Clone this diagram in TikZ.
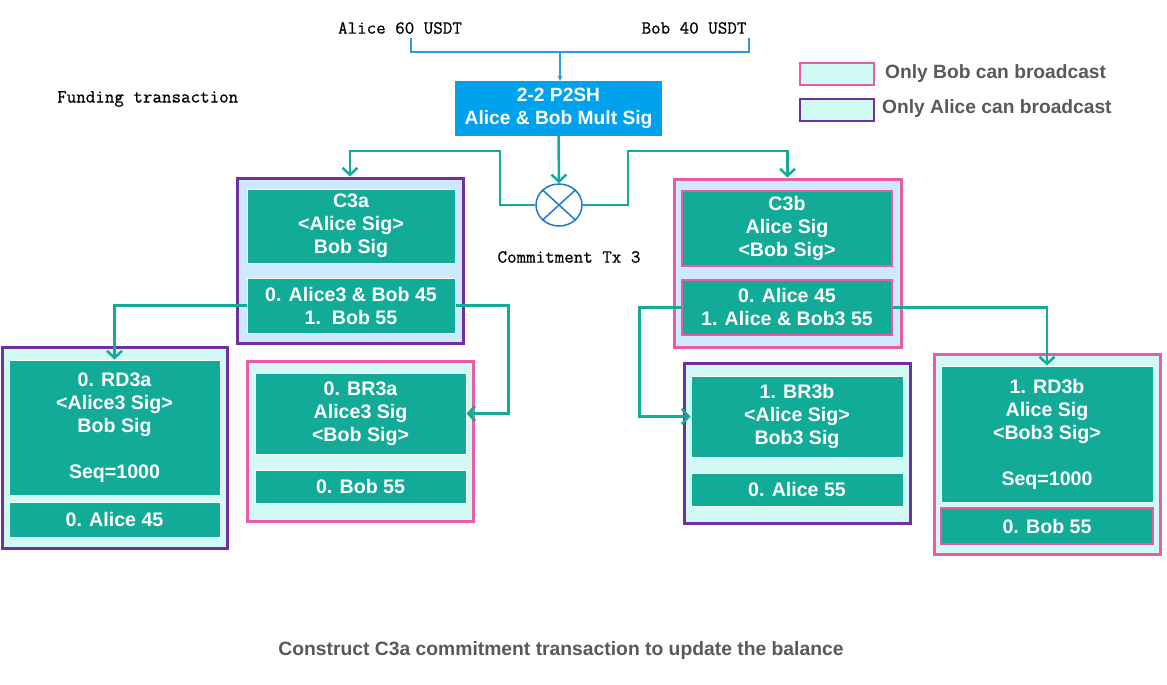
\documentclass[tikz,border=0pt]{standalone}
\usepackage{fontspec}
\setsansfont{Liberation Sans}
\newfontfamily\monob{Latin Modern Mono}[FakeBold=0.6]
\usetikzlibrary{arrows.meta,shapes.geometric}
\definecolor{tealC}{HTML}{12AB97}
\definecolor{lblue}{HTML}{CDE9FB}
\definecolor{lcyan}{HTML}{D2FAF5}
\definecolor{purpC}{HTML}{7030A0}
\definecolor{pinkC}{HTML}{E95BA5}
\definecolor{fundblue}{HTML}{00A2ED}
\definecolor{lineblue}{HTML}{2A9BE0}
\definecolor{circblue}{HTML}{1F78C8}
\definecolor{grayT}{HTML}{595959}
\tikzset{
  outerA/.style={draw=purpC,line width=3pt,fill=#1,inner sep=0pt},
  outerB/.style={draw=pinkC,line width=3pt,fill=#1,inner sep=0pt},
  inner/.style={fill=tealC,draw=white,line width=1pt,text=white,align=center,inner sep=0pt,
    font=\sffamily\bfseries\fontsize{19.6}{23}\selectfont},
  innerK/.style={inner,draw=pinkC,line width=1.5pt},
  conn/.style={draw=tealC,line width=2.5pt,-{Straight Barb[length=7pt,width=15pt,line width=2.5pt]}},
  fund/.style={draw=lineblue,line width=1.2pt},
  mono/.style={font=\monob\fontsize{18.5}{22}\selectfont,inner sep=0pt},
  legtext/.style={font=\sffamily\bfseries\fontsize{19.2}{22}\selectfont,text=grayT,inner sep=0pt,anchor=west},
}
\begin{document}
\begin{tikzpicture}[x=1pt,y=-1pt]
\useasboundingbox (0,0) rectangle (1167,685);
% funding
\node[mono] (alice) at (400,28) {Alice 60 USDT};
\node[mono] (bob) at (694,28) {Bob 40 USDT};
\node[mono,anchor=west] (funding) at (57,99) {Funding transaction};
\node[fill=fundblue,text=white,align=center,minimum width=207,minimum height=55,inner sep=0pt,
  font=\sffamily\bfseries\fontsize{19.2}{23}\selectfont] (p2sh) at (558.5,108.5) {2-2 P2SH\\Alice \& Bob Mult Sig};
\coordinate (aout) at (411,38);
\coordinate (bout) at (749,38);
\coordinate (fj) at (560,52);
\draw[fund] (aout) |- (fj) -| (bout);
\draw[fund,-{Stealth[length=5pt,width=5pt]}] (fj) -- (fj |- p2sh.north);
% legend
\node[draw=pinkC,line width=2pt,fill=lcyan,minimum width=74,minimum height=22,inner sep=0pt] (legB) at (837,74) {};
\node[legtext] (legBt) at (885,74) {Only Bob can broadcast};
\node[draw=purpC,line width=2pt,fill=lcyan,minimum width=74,minimum height=22,inner sep=0pt] (legA) at (837,110) {};
\node[legtext] (legAt) at (882,109) {Only Alice can broadcast};
% commitment circle
\node[ellipse,draw=circblue,line width=1.5pt,fill=white,minimum width=46,minimum height=42,inner sep=0pt] (X) at (559,205) {};
\draw[circblue,line width=1.5pt] (X.north west) -- (X.south east) (X.north east) -- (X.south west);
\node[mono] (ctx) at (569,257) {Commitment Tx 3};
% C3a
\node[outerA=lblue,minimum width=226,minimum height=165] (C3aout) at (350,260.5) {};
\node[inner,minimum width=208,minimum height=74] (C3atop) at (351,226) {C3a\\<Alice Sig>\\Bob Sig};
\node[inner,minimum width=208,minimum height=55] (C3abot) at (351,305.5) {0. Alice3 \& Bob 45\\1.\ \ Bob 55};
% C3b
\node[outerB=lblue,minimum width=227,minimum height=168] (C3bout) at (787.5,263) {};
\node[innerK,minimum width=210,minimum height=75] (C3btop) at (787,228.5) {C3b\\Alice Sig\\<Bob Sig>};
\node[innerK,minimum width=210,minimum height=55] (C3bbot) at (787,307.5) {0. Alice 45\\1. Alice \& Bob3 55};
% RD3a
\node[outerA=lcyan,minimum width=225,minimum height=201] (RD3aout) at (114.5,447.5) {};
\node[inner,minimum width=211,minimum height=135] (RD3atop) at (114.5,427.5) {0. RD3a\\<Alice3 Sig>\\Bob Sig\\[23pt]Seq=1000};
\node[inner,minimum width=211,minimum height=35] (RD3abot) at (114.5,519.5) {0. Alice 45};
% BR3a
\node[outerB=lcyan,minimum width=226,minimum height=160] (BR3aout) at (360,441) {};
\node[inner,minimum width=211,minimum height=81] (BR3atop) at (360.5,413.5) {0. BR3a\\Alice3 Sig\\<Bob Sig>};
\node[inner,minimum width=211,minimum height=33] (BR3abot) at (360.5,486.5) {0. Bob 55};
% BR3b
\node[outerA=lcyan,minimum width=226,minimum height=160] (BR3bout) at (797,443) {};
\node[inner,minimum width=212,minimum height=81] (BR3btop) at (797,416.5) {1. BR3b\\<Alice Sig>\\Bob3 Sig};
\node[inner,minimum width=212,minimum height=33] (BR3bbot) at (797,489.5) {0. Alice 55};
% RD3b
\node[outerB=lcyan,minimum width=226,minimum height=200] (RD3bout) at (1047,454) {};
\node[inner,minimum width=212,minimum height=136] (RD3btop) at (1047,434) {1. RD3b\\Alice Sig\\<Bob3 Sig>\\[23pt]Seq=1000};
\node[innerK,minimum width=212,minimum height=36] (RD3bbot) at (1047,526) {0. Bob 55};
% connectors
\draw[conn] (p2sh.south) -- (X.north);
\coordinate (k1) at (500,151);
\coordinate (k2) at (628,151);
\draw[conn] (X.west) -| (k1) -| (C3aout.north);
\draw[conn] (X.east) -| (k2) -| (C3bout.north);
\draw[conn] (C3abot.west) -| (RD3atop.north);
\draw[conn] (C3abot.east) -- ++(53,0) |- (BR3atop.east);
\draw[conn] (C3bbot.west) -- ++(-42,0) |- (BR3btop.west);
\draw[conn] (C3bbot.east) -| (RD3btop.north);
% caption
\node[font=\sffamily\bfseries\fontsize{19.3}{22}\selectfont,text=grayT,inner sep=0pt] (cap) at (561,651) {Construct C3a commitment transaction to update the balance};
\end{tikzpicture}
\end{document}
